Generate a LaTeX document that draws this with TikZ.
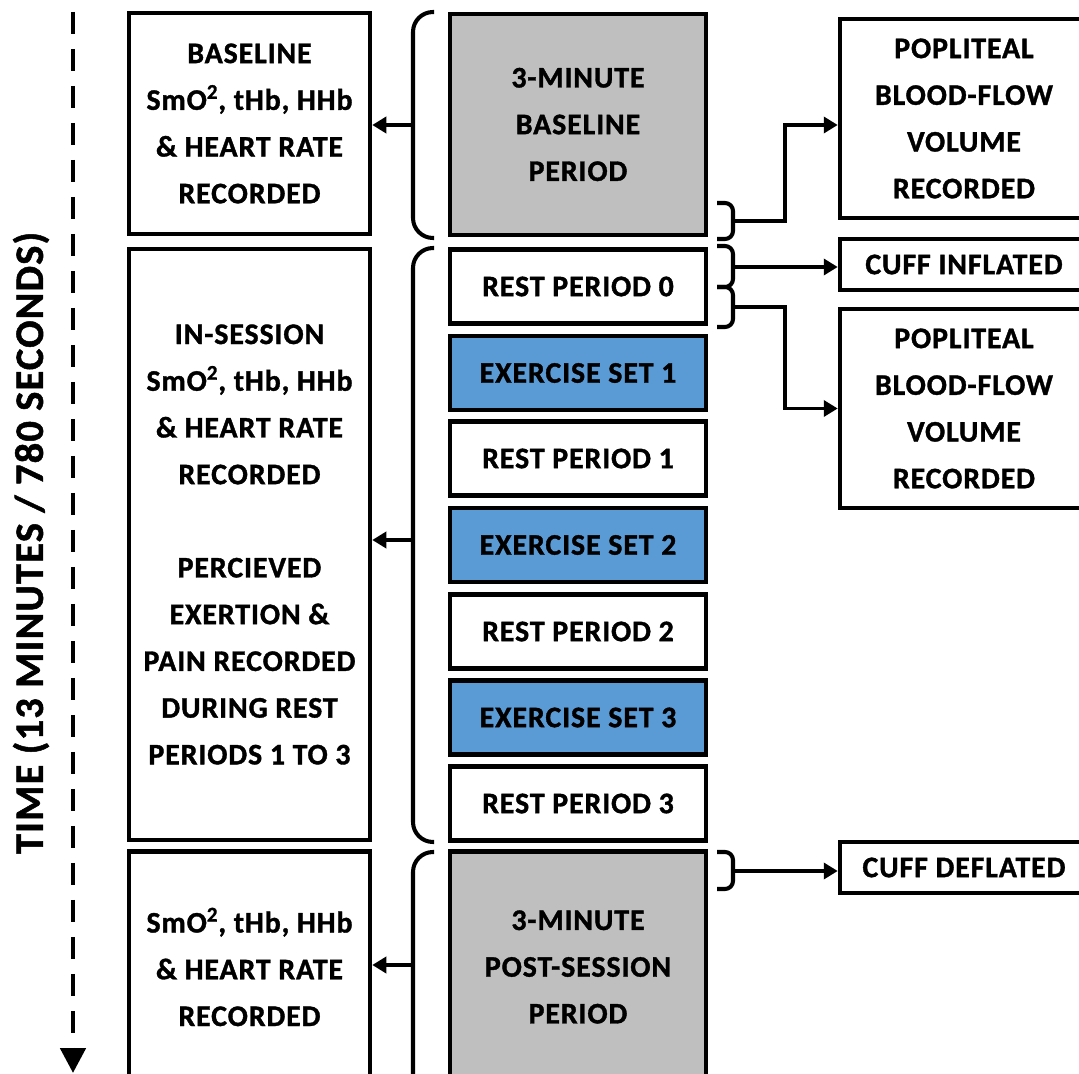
\documentclass[tikz,border=0pt]{standalone}
\usepackage{fontspec}
\setmainfont[LetterSpace=3, BoldFeatures={FakeBold=1.2}]{Carlito}
\usetikzlibrary{arrows.meta}
\definecolor{basegray}{RGB}{191,191,191}
\definecolor{exblue}{RGB}{91,155,213}

\begin{document}
\begin{tikzpicture}[x=0.02cm, y=-0.02cm,
    box/.style={draw, line width=2.6pt, align=center, inner sep=0pt,
      font=\bfseries\fontsize{17}{26.6}\selectfont},
    info/.style={box, minimum width=4.82cm},
    period/.style={box, minimum width=5.12cm, minimum height=1.48cm},
    note/.style={box, minimum width=4.96cm},
    brace/.style={line width=2.3pt, rounded corners=0.4cm},
    smallbrace/.style={line width=2.3pt, rounded corners=0.16cm},
    link/.style={line width=2.1pt, -{Triangle[length=0.28cm,width=0.32cm]}}]
  \useasboundingbox (0,0) rectangle (1079,1074);
  \clip (0,0) rectangle (1079,1074);

  % time axis
  \coordinate (t0) at (73,12);
  \coordinate (t1) at (73,1073);
  \draw[line width=2.8pt, dash pattern=on 0.44cm off 0.3cm,
    -{Triangle[length=0.5cm,width=0.5cm]}] (t0) -- (t1);
  \node[rotate=90, font=\bfseries\fontsize{23}{23}\selectfont] (tlabel) at (31,543)
    {TIME (13 MINUTES / 780 SECONDS)};

  % recordings (left)
  \node[info, minimum height=4.42cm] (lb1) at (249.5,123.5)
    {BASELINE\\SmO\textsuperscript{2}, tHb, HHb\\\& HEART RATE\\RECORDED};
  \node[info, minimum height=11.82cm] (lb2) at (249.5,544.5)
    {IN-SESSION\\SmO\textsuperscript{2}, tHb, HHb\\\& HEART RATE\\RECORDED\\[0.93cm]
     PERCIEVED\\EXERTION \&\\PAIN RECORDED\\DURING REST\\PERIODS 1 TO 3};
  \node[info, minimum height=4.62cm] (lb3) at (249.5,967)
    {SmO\textsuperscript{2}, tHb, HHb\\\& HEART RATE\\RECORDED};

  % session periods (middle)
  \node[period, fill=basegray, minimum height=4.42cm] (base) at (578,124.5)
    {3-MINUTE\\BASELINE\\PERIOD};
  \node[period] (r0) at (578,286.5) {REST PERIOD 0};
  \node[period, fill=exblue] (e1) at (578,373) {EXERCISE SET 1};
  \node[period] (r1) at (578,458.5) {REST PERIOD 1};
  \node[period, fill=exblue] (e2) at (578,545) {EXERCISE SET 2};
  \node[period] (r2) at (578,631.5) {REST PERIOD 2};
  \node[period, fill=exblue] (e3) at (578,717.5) {EXERCISE SET 3};
  \node[period] (r3) at (578,803.5) {REST PERIOD 3};
  \node[period, fill=basegray, minimum height=4.62cm] (post) at (578,967)
    {3-MINUTE\\POST-SESSION\\PERIOD};

  % events (right)
  \node[note, minimum height=3.98cm] (pop1) at (964,118.5)
    {POPLITEAL\\BLOOD-FLOW\\VOLUME\\RECORDED};
  \node[note, minimum height=1.02cm] (cuffin) at (964,264.5) {CUFF INFLATED};
  \node[note, minimum height=3.98cm] (pop2) at (964,408.5)
    {POPLITEAL\\BLOOD-FLOW\\VOLUME\\RECORDED};
  \node[note, minimum height=1.02cm] (cuffout) at (964,867.5) {CUFF DEFLATED};

  % braces to the left
  \draw[brace] (434,12) -- (413,12) -- (413,238) -- (434,238);
  \draw[brace] (434,248) -- (413,248) -- (413,842) -- (434,842);
  \draw[brace] (434,852) -- (413,852) -- (413,1110);
  \coordinate (bl1) at (413,125);
  \coordinate (bl2) at (413,540);
  \coordinate (bl3) at (413,965);
  \draw[link] (bl1) -- (bl1 -| lb1.east);
  \draw[link] (bl2) -- (bl2 -| lb2.east);
  \draw[link] (bl3) -- (bl3 -| lb3.east);

  % braces to the right
  \draw[smallbrace] (717,203) -- (733,203) -- (733,239) -- (717,239);
  \draw[smallbrace] (717,246) -- (733,246) -- (733,287) -- (717,287);
  \draw[smallbrace] (717,287) -- (733,287) -- (733,327) -- (717,327);
  \draw[smallbrace] (717,852) -- (733,852) -- (733,889) -- (717,889);
  \coordinate (br1) at (733,221);
  \coordinate (br2) at (733,267);
  \coordinate (br3) at (733,307);
  \coordinate (br4) at (733,871);
  \draw[link] (br1) -- ++(52,0) |- ([yshift=-0.13cm]pop1.west);
  \draw[link] (br2) -- (br2 -| cuffin.west);
  \draw[link] (br3) -- ++(52,0) |- (pop2.west);
  \draw[link] (br4) -- (br4 -| cuffout.west);
\end{tikzpicture}
\end{document}
